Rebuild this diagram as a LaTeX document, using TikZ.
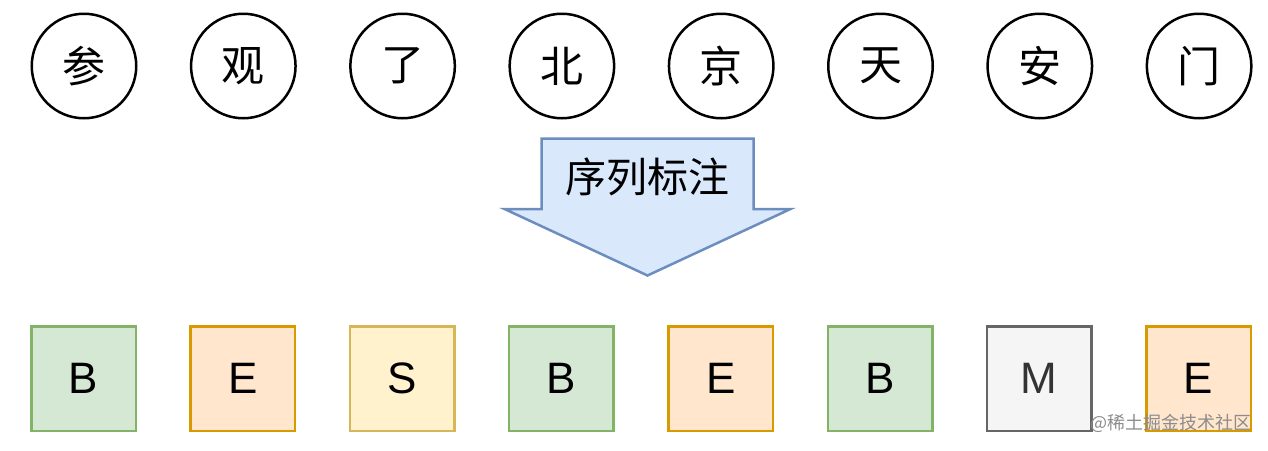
\documentclass[tikz,border=0pt]{standalone}
\usepackage{fontspec}
\setmainfont{Liberation Sans}
\newfontfamily\cjk{Noto Sans CJK SC}
\usepackage{tikz}
\usetikzlibrary{positioning}

\definecolor{bfill}{HTML}{D5E8D4}
\definecolor{bline}{HTML}{82B366}
\definecolor{efill}{HTML}{FFE6CC}
\definecolor{eline}{HTML}{D79B00}
\definecolor{sfill}{HTML}{FFF2CC}
\definecolor{sline}{HTML}{D6B656}
\definecolor{mfill}{HTML}{F5F5F5}
\definecolor{mline}{HTML}{666666}
\definecolor{afill}{HTML}{DAE8FC}
\definecolor{aline}{HTML}{6C8EBF}

\tikzset{
  charnode/.style={circle, draw, line width=1.25pt, minimum size=52.25pt, inner sep=0pt,
    font=\cjk\fontsize{21.5}{21.5}\selectfont},
  tagnode/.style={rectangle, line width=1.25pt, minimum size=52.25pt, inner sep=0pt,
    font=\fontsize{22}{22}\selectfont},
  tagB/.style={tagnode, draw=bline, fill=bfill},
  tagE/.style={tagnode, draw=eline, fill=efill},
  tagS/.style={tagnode, draw=sline, fill=sfill},
  tagM/.style={tagnode, draw=mline, fill=mfill, text=black!80},
}

\begin{document}
\begin{tikzpicture}[x=0.5pt, y=-0.5pt]
\useasboundingbox (0,0) rectangle (1268,450);

% characters
\foreach \ch [count=\i] in {参,观,了,北,京,天,安,门}
  \node[charnode] (c\i) at ({84+159.3*(\i-1)},66) {\ch};

% arrow
\filldraw[fill=afill, draw=aline, line width=1.25pt, line join=miter]
  (541.5,138.5) -- (753.5,138.5) -- (753.5,209) -- (790.5,209)
  -- (647.5,275.5) -- (504.5,209) -- (541.5,209) -- cycle;
\node[font=\cjk\fontsize{20.5}{20.5}\selectfont] (task) at (647.5,177) {序列标注};

% tags
\foreach \t [count=\i] in {B,E,S,B,E,B,M,E}
  \node[tag\t] (t\i) at ({83.5+159.3*(\i-1)},378.5) {\t};

\node[anchor=east, text=black!45, font=\cjk\fontsize{9}{9}\selectfont, inner sep=0pt]
  (mark) at (1252,423) {@稀土掘金技术社区};
\end{tikzpicture}
\end{document}
